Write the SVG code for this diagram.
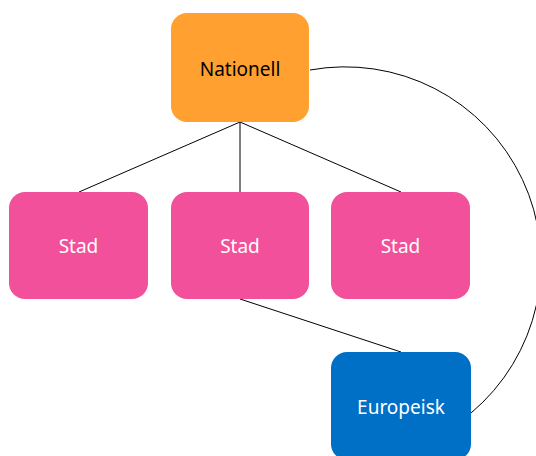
<svg xmlns="http://www.w3.org/2000/svg" width="536" height="456" viewBox="0 0 536 456">
<style>
.conn{fill:none;stroke:#000;stroke-width:1}
.lbl{font-family:"Noto Sans","Open Sans","Liberation Sans",sans-serif;font-size:19px;text-anchor:middle;dominant-baseline:central}
.stad rect{fill:#F2509A}
.stad text{fill:#fff}
</style>
<rect width="536" height="456" fill="#fff"/>
<g id="connectors">
<line class="conn" x1="240" y1="122" x2="79" y2="192"/>
<line class="conn" x1="240" y1="122" x2="240" y2="192"/>
<line class="conn" x1="240" y1="122" x2="401" y2="192"/>
<line class="conn" x1="240" y1="299" x2="401" y2="352"/>
<path class="conn" d="M310,70 A196,196 0 0 1 471,413"/>
</g>
<g id="nationell">
<rect x="171" y="13" width="138" height="109" rx="16" fill="#FFA030"/>
<text class="lbl" x="240" y="69" fill="#000">Nationell</text>
</g>
<g id="stad1" class="stad">
<rect x="9" y="192" width="139" height="107" rx="16"/>
<text class="lbl" x="78.5" y="246">Stad</text>
</g>
<g id="stad2" class="stad">
<rect x="171" y="192" width="138" height="107" rx="16"/>
<text class="lbl" x="240" y="246">Stad</text>
</g>
<g id="stad3" class="stad">
<rect x="331" y="192" width="139" height="107" rx="16"/>
<text class="lbl" x="400.5" y="246">Stad</text>
</g>
<g id="europeisk">
<rect x="331" y="352" width="140" height="108" rx="16" fill="#0070C6"/>
<text class="lbl" x="401" y="407" fill="#fff">Europeisk</text>
</g>
</svg>
